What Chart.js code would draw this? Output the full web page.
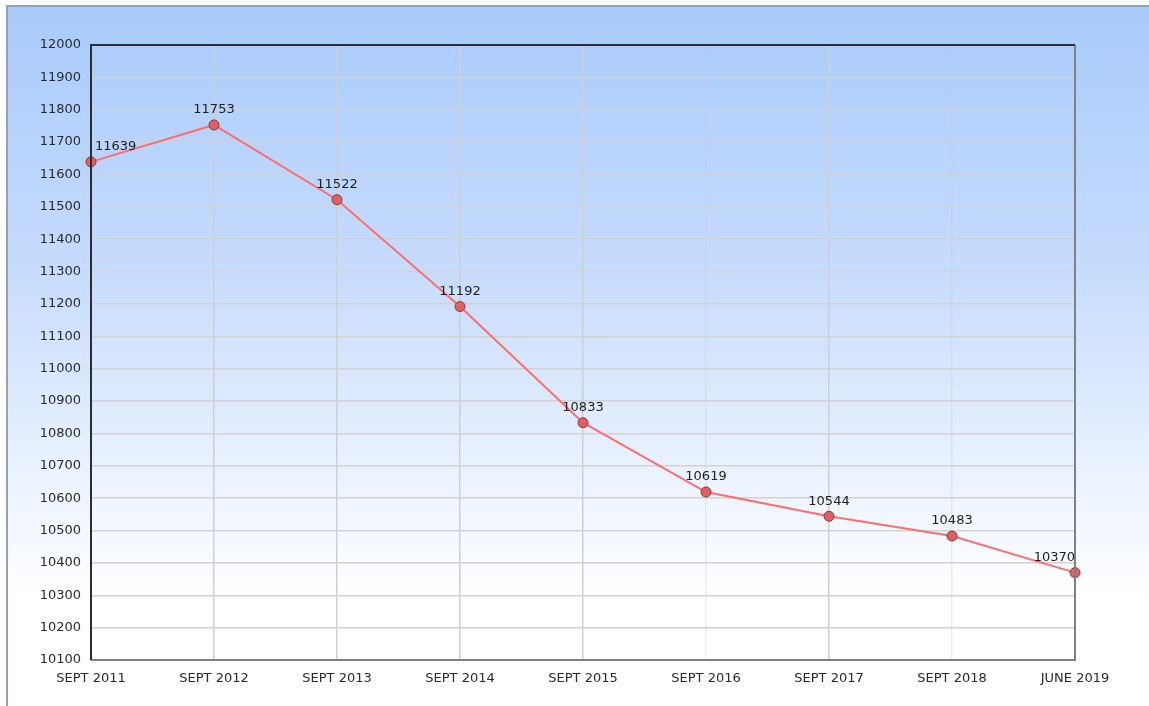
<!DOCTYPE html>
<html>
<head>
<meta charset="utf-8">
<script src="https://cdn.jsdelivr.net/npm/chart.js@4.4.1/dist/chart.umd.min.js"></script>
<style>
    html, body { margin: 0; padding: 0; background: #ffffff; overflow: hidden; }
    canvas { display: block; }
</style>
</head>
<body>
<canvas id="chart" width="1149" height="706"></canvas>
<script>
// Categories and values
const periods = ['SEPT 2011', 'SEPT 2012', 'SEPT 2013', 'SEPT 2014', 'SEPT 2015',
                 'SEPT 2016', 'SEPT 2017', 'SEPT 2018', 'JUNE 2019'];
const counts = [11639, 11753, 11522, 11192, 10833, 10619, 10544, 10483, 10370];
const yMin = 10100;
const yMax = 12000;
const yStep = 100;

const FONT = '"DejaVu Sans", sans-serif';

// Gradient panel behind the whole chart, with its top and left edges
const panel = {
    id: 'panel',
    beforeDraw(chart) {
        const { ctx, width, height } = chart;
        ctx.save();
        const g = ctx.createLinearGradient(0, 6, 0, height);
        g.addColorStop(0, '#a8cafc');
        g.addColorStop(0.4, '#c9ddfd');
        g.addColorStop(0.7, '#eef5ff');
        g.addColorStop(0.85, '#ffffff');
        ctx.fillStyle = g;
        ctx.fillRect(7, 6, width - 7, height - 6);
        ctx.lineWidth = 2;
        ctx.strokeStyle = '#9aa0a8';
        ctx.beginPath();
        ctx.moveTo(6, 6);
        ctx.lineTo(width, 6);
        ctx.moveTo(7, 6);
        ctx.lineTo(7, height);
        ctx.stroke();
        ctx.restore();
    }
};

// Frame around the plotting area
const frameBorder = {
    id: 'frameBorder',
    afterDraw(chart) {
        const { ctx, chartArea: a } = chart;
        ctx.save();
        ctx.lineWidth = 2;
        ctx.strokeStyle = '#7d8084';
        ctx.beginPath();
        ctx.moveTo(a.right, a.top);
        ctx.lineTo(a.right, a.bottom);
        ctx.lineTo(a.left, a.bottom);
        ctx.stroke();
        ctx.strokeStyle = '#2a2d33';
        ctx.beginPath();
        ctx.moveTo(a.left, a.bottom);
        ctx.lineTo(a.left, a.top);
        ctx.lineTo(a.right, a.top);
        ctx.stroke();
        ctx.restore();
    }
};

// Value labels above each point
const pointLabels = {
    id: 'pointLabels',
    afterDatasetsDraw(chart) {
        const { ctx, chartArea: a } = chart;
        const meta = chart.getDatasetMeta(0);
        ctx.save();
        ctx.font = '13px ' + FONT;
        ctx.fillStyle = '#1e1e1e';
        ctx.textBaseline = 'middle';
        ctx.textAlign = 'left';
        meta.data.forEach((pt, i) => {
            const txt = String(counts[i]);
            const w = ctx.measureText(txt).width;
            let x = pt.x - w / 2;
            if (x < a.left + 4) x = a.left + 4;
            if (x + w > a.right) x = a.right - w;
            ctx.fillText(txt, x, pt.y - 15);
        });
        ctx.restore();
    }
};

new Chart(document.getElementById('chart'), {
    type: 'line',
    data: {
        labels: periods,
        datasets: [{
            data: counts,
            borderColor: '#ff6d6d',
            borderWidth: 2,
            pointRadius: 5,
            pointBackgroundColor: '#e06060',
            pointBorderColor: '#8a3a3a',
            pointBorderWidth: 1,
            tension: 0,
            clip: false
        }]
    },
    options: {
        responsive: false,
        animation: false,
        layout: { padding: { left: 10, top: 45, right: 74, bottom: 0 } },
        plugins: { legend: { display: false }, tooltip: { enabled: false } },
        scales: {
            x: {
                offset: false,
                grid: {
                    color: (c) => (c.index === 5 || c.index === 7) ? 'rgba(200,200,200,0.35)' : '#cfcfcf',
                    lineWidth: 1.5,
                    drawTicks: false
                },
                border: { display: false },
                ticks: {
                    padding: 11,
                    color: '#2a2a2a',
                    font: { family: FONT, size: 13 },
                    maxRotation: 0,
                    autoSkip: false
                },
                afterFit: (s) => { s.height = 46; }
            },
            y: {
                min: yMin,
                max: yMax,
                grid: { color: '#d2d2d2', lineWidth: 1.5, drawTicks: false },
                border: { display: false },
                ticks: {
                    stepSize: yStep,
                    padding: 10,
                    color: '#2a2a2a',
                    font: { family: FONT, size: 13 },
                    callback: (v) => String(v)
                },
                afterFit: (s) => { s.width = 81; }
            }
        }
    },
    plugins: [panel, frameBorder, pointLabels]
});
</script>
</body>
</html>
